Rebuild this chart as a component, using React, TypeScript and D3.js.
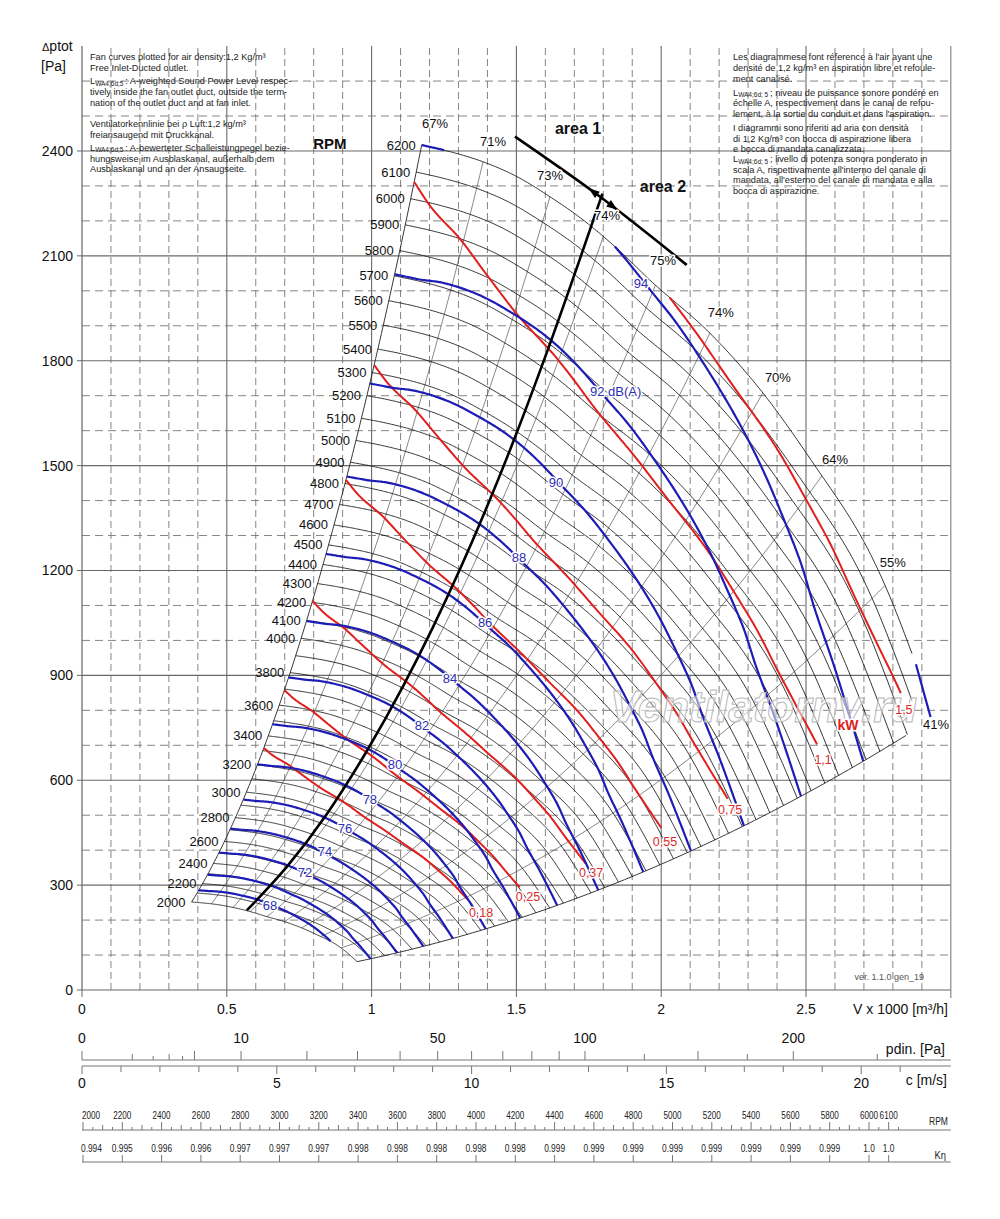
import React from "react";
import * as d3 from "d3";

const FONT = "'Liberation Sans', Arial, Helvetica, sans-serif";

// ---------- main axes ----------
const flowTicks = [0, 0.5, 1, 1.5, 2, 2.5];
const flowTickLabels = ["0", "0.5", "1", "1.5", "2", "2.5"];
const pressureTicks = [0, 300, 600, 900, 1200, 1500, 1800, 2100, 2400];

// ---------- fan curve at reference speed 6200 rpm (V x1000 m3/h, Pa) ----------
const REF_RPM = 6200;
const MIN_RPM = 2000;
const baseFlow = [1.173, 1.271, 1.385, 1.501, 1.616, 1.73, 1.846, 1.971, 2.168, 2.351, 2.524, 2.697, 2.78, 2.859, 2.945];
const basePressure = [2417, 2398, 2369, 2327, 2269, 2203, 2122, 2023, 1879, 1708, 1508, 1287, 1144, 978, 780];

const rpmCurves = [
  2000, 2100, 2200, 2300, 2400, 2500, 2600, 2700, 2800, 2900, 3000, 3100, 3200, 3300, 3400, 3500,
  3600, 3700, 3800, 3900, 4000, 4100, 4200, 4300, 4400, 4500, 4600, 4700, 4800, 4900, 5000, 5100,
  5200, 5300, 5400, 5500, 5600, 5700, 5800, 5900, 6000, 6100, 6200,
];
const rpmLabelled = [
  2000, 2200, 2400, 2600, 2800, 3000, 3200, 3400, 3600, 3800, 4000, 4100, 4200, 4300, 4400, 4500,
  4600, 4700, 4800, 4900, 5000, 5100, 5200, 5300, 5400, 5500, 5600, 5700, 5800, 5900, 6000, 6100, 6200,
];

// ---------- efficiency lines ----------
const effNames = ["67%", "71%", "73%", "74%", "75%", "74%", "70%", "64%", "55%", "41%"];
const effFlowAtRef = [1.173, 1.385, 1.616, 1.8, 1.98, 2.168, 2.351, 2.555, 2.773, 2.945];
const effLabelFlow = [1.219, 1.419, 1.616, 1.813, 2.006, 2.206, 2.403, 2.6, 2.8, 2.949];
const effLabelPressure = [2480, 2426, 2331, 2217, 2088, 1939, 1751, 1519, 1224, 761];

// ---------- sound power lines (dB(A)) ----------
const soundShapeFlow = [1.173, 1.25, 1.35, 1.55, 1.75, 1.84, 1.95, 2.05, 2.16, 2.36, 2.46, 2.54, 2.63, 2.72, 2.83, 2.945];
const soundShapeRatio = [1.0, 1.0, 1.002, 1.003, 1.002, 1.0, 0.996, 0.991, 0.983, 0.969, 0.961, 0.953, 0.943, 0.931, 0.923, 0.916];
const blueNames = ["68", "70", "72", "74", "76", "78", "80", "82", "84", "86", "88", "90", "92 dB(A)", "94", "96"];
const blueStartRpm = [2130, 2290, 2500, 2709, 2943, 3204, 3477, 3771, 4097, 4454, 4833, 5253, 5706, 6200, 6740];
const blueLabelShown = [true, false, true, true, true, true, true, true, true, true, true, true, true, true, false];
const blueLabelFlow = [0.649, 0, 0.77, 0.839, 0.908, 0.994, 1.081, 1.174, 1.271, 1.392, 1.509, 1.637, 1.754, 1.93, 0];
const blueLabelPressure = [243, 0, 335, 395, 463, 544, 644, 758, 890, 1050, 1236, 1453, 1711, 2022, 0];

// ---------- power lines (kW) ----------
const powerShapeFlow = [1.173, 1.25, 1.372, 1.492, 1.638, 1.795, 1.994, 2.277, 2.463, 2.641, 2.754, 2.81, 2.9];
const powerShapeRatio = [1.0, 0.987, 0.973, 0.958, 0.944, 0.935, 0.923, 0.908, 0.904, 0.897, 0.893, 0.894, 0.899];
const redNames = ["0,18", "0,25", "0,37", "0,55", "0,75", "1,1", "1,5"];
const redStartRpm = [3318, 3694, 4207, 4817, 5332, 6063, 6732];
const redEndFlow = [2.79, 2.834, 2.86, 2.87, 2.886, 2.889, 2.897];
const redLabelFlow = [1.378, 1.54, 1.758, 2.013, 2.238, 2.559, 2.838];
const redLabelPressure = [220, 266, 335, 423, 515, 658, 801];

// ---------- area border lines ----------
const borderFlow = [0.569, 0.707, 0.845, 0.983, 1.108, 1.212, 1.488, 1.606, 1.72, 1.797];
const borderPressure = [228, 352, 503, 683, 868, 1038, 1566, 1826, 2093, 2278];
const areaFlow = [1.495, 1.789, 2.088];
const areaPressure = [2441, 2269, 2074];

// ---------- auxiliary scales ----------
const pdinTicks = [0, 1, 2, 3, 4, 5, 10, 20, 30, 40, 50, 60, 70, 80, 90, 100, 125, 150, 175, 200, 250];
const pdinMid = [1, 3, 125, 175, 250];
const pdinShort = [2, 4];
const pdinLabelled = [0, 10, 50, 100, 200];
const velocityTicks = [0, 1, 2, 3, 4, 5, 6, 7, 8, 9, 10, 11, 12, 13, 14, 15, 16, 17, 18, 19, 20, 21];
const velocityLabelled = [0, 5, 10, 15, 20];
const rpmScaleLabels = [2000, 2200, 2400, 2600, 2800, 3000, 3200, 3400, 3600, 3800, 4000, 4200, 4400, 4600, 4800, 5000, 5200, 5400, 5600, 5800, 6000, 6100];
const kEtaLabels = ["0.994", "0.995", "0.996", "0.996", "0.997", "0.997", "0.997", "0.998", "0.998", "0.998", "0.998", "0.998", "0.999", "0.999", "0.999", "0.999", "0.999", "0.999", "0.999", "0.999", "1.0", "1.0"];

const notesLeft = [
  "Fan curves plotted for air density:1,2 Kg/m³",
  "Free Inlet-Ducted outlet.",
  "#: A-weighted Sound Power Level respec-",
  "tively inside the fan outlet duct, outside the term-",
  "nation of the outlet duct and at fan inlet.",
  "Ventilatorkennlinie bei ρ Luft:1,2 kg/m³",
  "freiansaugend mit Druckkanal.",
  "#: A-bewerteter Schalleistungpegel bezie-",
  "hungsweise im Ausblaskanal, außerhalb dem",
  "Ausblaskanal und an der Ansaugseite.",
];
const notesLeftY = [60, 70.5, 84, 95, 105.5, 127, 137.5, 150.5, 162, 172];
const notesRight = [
  "Les diagrammese font réference à l'air ayant une",
  "densité de 1,2 kg/m³ en aspiration libre et refoule-",
  "ment canalisé.",
  "#; niveau de puissance sonore pondéré en",
  "échelle A, respectivement dans le canal de refou-",
  "lement, à la sortie du conduit et dans l'aspiration.",
  "I diagrammi sono riferiti ad aria con densità",
  "di 1,2 Kg/m³ con bocca di aspirazione libera",
  "e bocca di mandata canalizzata.",
  "#; livello di potenza sonora ponderato in",
  "scala A, rispettivamente all'interno del canale di",
  "mandata, all'esterno del canale di mandata e alla",
  "bocca di aspirazione.",
];
const notesRightY = [60, 71, 81.5, 95.5, 106, 116.5, 131, 141.5, 151.5, 162, 172.5, 183, 194];

// monotone cubic interpolation
function monotone(xs: number[], ys: number[]) {
  const n = xs.length;
  const d: number[] = [];
  for (let i = 0; i < n - 1; i++) d.push((ys[i + 1] - ys[i]) / (xs[i + 1] - xs[i]));
  const m: number[] = new Array(n).fill(0);
  m[0] = d[0];
  m[n - 1] = d[n - 2];
  for (let i = 1; i < n - 1; i++) m[i] = d[i - 1] * d[i] <= 0 ? 0 : (d[i - 1] + d[i]) / 2;
  for (let i = 0; i < n - 1; i++) {
    if (d[i] === 0) {
      m[i] = 0;
      m[i + 1] = 0;
      continue;
    }
    const a = m[i] / d[i];
    const b = m[i + 1] / d[i];
    const s = a * a + b * b;
    if (s > 9) {
      const t = 3 / Math.sqrt(s);
      m[i] = t * a * d[i];
      m[i + 1] = t * b * d[i];
    }
  }
  return (xv: number) => {
    let i = d3.bisectRight(xs, xv) - 1;
    i = Math.max(0, Math.min(n - 2, i));
    const hh = xs[i + 1] - xs[i];
    const t = (xv - xs[i]) / hh;
    const t2 = t * t;
    const t3 = t2 * t;
    return (2 * t3 - 3 * t2 + 1) * ys[i] + (t3 - 2 * t2 + t) * hh * m[i] + (-2 * t3 + 3 * t2) * ys[i + 1] + (t3 - t2) * hh * m[i + 1];
  };
}

type Pt = [number, number];

export default function App() {
  const x = d3.scaleLinear().domain([0, 3]).range([82, 950.8]);
  const y = d3.scaleLinear().domain([0, 2700]).range([990, 46.1]);
  const cScale = d3.scaleLinear().domain([0, 22.3]).range([82, 950.8]);
  const pScale = d3.scaleSqrt().domain([0, 0.6 * 22.3 * 22.3]).range([82, 950.8]);
  const rScale = d3.scaleLinear().domain([2000, 6000]).range([83, 869]);

  const P0 = monotone(baseFlow, basePressure);
  const gS = monotone(soundShapeFlow, soundShapeRatio);
  const hP = monotone(powerShapeFlow, powerShapeRatio);
  const q0Min = baseFlow[0];
  const q0Max = baseFlow[baseFlow.length - 1];
  const sMin = MIN_RPM / REF_RPM;
  const Q_CLIP = 2.866;
  const line = d3.line<Pt>().x((d) => x(d[0])).y((d) => y(d[1]));

  const trace = (sFn: (q: number) => number, a: number, b: number, qClip: number): Pt[][] => {
    const pt = (q: number): Pt => {
      const s = sFn(q);
      return [q * s, P0(q) * s * s];
    };
    const ok = (q: number) => {
      const s = sFn(q);
      return s >= sMin - 1e-9 && s <= 1 + 1e-9 && q * s <= qClip;
    };
    const segs: Pt[][] = [];
    let cur: Pt[] | null = null;
    const N = 320;
    let prevQ = a;
    let prevV = ok(a);
    if (prevV) cur = [pt(a)];
    for (let i = 1; i <= N; i++) {
      const q = a + ((b - a) * i) / N;
      const v = ok(q);
      if (v !== prevV) {
        let lo = prevQ;
        let hi = q;
        for (let k = 0; k < 40; k++) {
          const mid = (lo + hi) / 2;
          if (ok(mid) === prevV) lo = mid;
          else hi = mid;
        }
        if (prevV) {
          cur!.push(pt(lo));
          if (cur!.length > 1) segs.push(cur!);
          cur = null;
        } else {
          cur = [pt(hi)];
        }
      }
      if (v && cur) cur.push(pt(q));
      prevQ = q;
      prevV = v;
    }
    if (cur && cur.length > 1) segs.push(cur);
    return segs;
  };

  const systemLine = (q0: number, qClip: number): Pt[] => {
    const pts: Pt[] = [];
    const N = 80;
    for (let i = 0; i <= N; i++) {
      const s = sMin + ((1 - sMin) * i) / N;
      if (q0 * s > qClip) break;
      pts.push([q0 * s, P0(q0) * s * s]);
    }
    return pts;
  };

  // grid
  const vGrid = d3.range(1, 30).map((i) => i / 10);
  const hGrid = d3.range(1, 27).map((j) => j * 100);

  const rpmMinor = d3.range(2000, 6151, 50);

  const blue = "#1d1db6";
  const blueText = "#2e2eb4";
  const red = "#e0201e";
  const redText = "#dc2a2a";

  const halo = { paintOrder: "stroke" as const, stroke: "white", strokeWidth: 3, strokeLinejoin: "round" as const };

  // arrow heads on area line
  const ax0 = x(areaFlow[0]);
  const ay0 = y(areaPressure[0]);
  const ax1 = x(areaFlow[2]);
  const ay1 = y(areaPressure[2]);
  const len = Math.hypot(ax1 - ax0, ay1 - ay0);
  const ux = (ax1 - ax0) / len;
  const uy = (ay1 - ay0) / len;
  const arrow = (cx: number, cy: number, dir: number) => {
    const tx = cx + dir * ux * 6;
    const ty = cy + dir * uy * 6;
    const bx = cx - dir * ux * 5;
    const by = cy - dir * uy * 5;
    return `M${tx},${ty}L${bx - uy * 4},${by + ux * 4}L${bx + uy * 4},${by - ux * 4}Z`;
  };
  const areaInterp = monotone(areaFlow, areaPressure);

  const renderNote = (s: string, xx: number, yy: number, key: string, sub: string) => {
    if (s.startsWith("#")) {
      return (
        <text key={key} x={xx} y={yy}>
          L<tspan fontSize={6.5} dy={1.5}>{sub}</tspan>
          <tspan dy={-1.5}>{s.slice(1)}</tspan>
        </text>
      );
    }
    return (
      <text key={key} x={xx} y={yy}>
        {s}
      </text>
    );
  };

  return (
    <svg
      width={1000}
      height={1219}
      viewBox="0 0 1000 1219"
      style={{ position: "absolute", left: 0, top: 0, background: "white" }}
      fontFamily={FONT}
    >
      <rect x={0} y={0} width={1000} height={1219} fill="white" />

      {/* grid */}
      <g>
        {vGrid.map((v, i) => (
          <line
            key={"vg" + i}
            x1={x(v)}
            x2={x(v)}
            y1={y(0)}
            y2={y(2700)}
            stroke={(i + 1) % 5 === 0 ? "#6a6a6a" : "#777"}
            strokeWidth={(i + 1) % 5 === 0 ? 1.1 : 0.9}
            strokeDasharray={(i + 1) % 5 === 0 ? undefined : "7,4"}
          />
        ))}
        {hGrid.map((v, j) => (
          <line
            key={"hg" + j}
            x1={x(0)}
            x2={x(3)}
            y1={y(v)}
            y2={y(v)}
            stroke={(j + 1) % 3 === 0 ? "#6a6a6a" : "#777"}
            strokeWidth={(j + 1) % 3 === 0 ? 1.1 : 0.9}
            strokeDasharray={(j + 1) % 3 === 0 ? undefined : "8,5"}
          />
        ))}
        <line x1={x(0)} x2={x(0)} y1={y(2700)} y2={y(0)} stroke="#666" strokeWidth={1.2} />
        <line x1={x(3)} x2={x(3)} y1={y(2700)} y2={y(0) + 8} stroke="#888" strokeWidth={1.2} />
        <line x1={x(0)} x2={x(3)} y1={y(0)} y2={y(0)} stroke="#666" strokeWidth={1.2} />
        {pressureTicks.map((v) => (
          <line key={"yt" + v} x1={x(0) - 5} x2={x(0)} y1={y(v)} y2={y(v)} stroke="#666" />
        ))}
        {flowTicks.map((v) => (
          <line key={"xt" + v} x1={x(v)} x2={x(v)} y1={y(0)} y2={y(0) + 7} stroke="#666" />
        ))}
      </g>

      {/* axis labels */}
      <g fontSize={14} fill="#111">
        {pressureTicks.map((v) => (
          <text key={"yl" + v} x={73} y={y(v)} dy="0.35em" textAnchor="end">
            {v}
          </text>
        ))}
        {flowTicks.map((v, i) => (
          <text key={"xl" + v} x={x(v)} y={1009} dy="0.35em" textAnchor="middle">
            {flowTickLabels[i]}
          </text>
        ))}
        <text x={42} y={51}>
          <tspan fontSize={11}>Δ</tspan>ptot
        </text>
        <text x={41} y={71}>[Pa]</text>
        <text x={948} y={1009} dy="0.35em" textAnchor="end">
          V x 1000 [m³/h]
        </text>
      </g>

      {/* notes */}
      <g fontSize={9.2} fill="#222">
        {notesLeft.map((s, i) => renderNote(s, 90, notesLeftY[i], "nl" + i, "WA4;6d;5 "))}
        {notesRight.map((s, i) => renderNote(s, 733, notesRightY[i], "nr" + i, "WA4;6d; 5 "))}
      </g>

      {/* efficiency lines */}
      <g fill="none" stroke="#555" strokeWidth={0.7}>
        {effFlowAtRef.map((q0, i) => (
          <path
            key={"ef" + i}
            d={line(systemLine(q0, Q_CLIP)) || ""}
            stroke={i === 0 || i === effFlowAtRef.length - 1 ? "#222" : "#555"}
            strokeWidth={i === 0 || i === effFlowAtRef.length - 1 ? 0.9 : 0.7}
          />
        ))}
      </g>

      {/* rpm curves */}
      <g fill="none" stroke="#111" strokeWidth={0.85}>
        {rpmCurves.map((n) =>
          trace(() => n / REF_RPM, q0Min, q0Max, Q_CLIP).map((seg, k) => <path key={"r" + n + "_" + k} d={line(seg) || ""} />)
        )}
      </g>

      {/* power lines */}
      <g fill="none" stroke={red} strokeWidth={2}>
        {redStartRpm.map((n, i) =>
          trace((q) => (n / REF_RPM) * hP(q), q0Min, redEndFlow[i], 3).map((seg, k) => (
            <path key={"pw" + i + "_" + k} d={line(seg) || ""} />
          ))
        )}
      </g>

      {/* sound lines */}
      <g fill="none" stroke={blue} strokeWidth={2.2}>
        {blueStartRpm.map((n, i) =>
          trace((q) => (n / REF_RPM) * gS(q), q0Min, q0Max, 2.93).map((seg, k) => (
            <path key={"bl" + i + "_" + k} d={line(seg) || ""} />
          ))
        )}
      </g>

      {/* area border */}
      <path
        d={d3.line<number>().x((_, i) => x(borderFlow[i])).y((_, i) => y(borderPressure[i])).curve(d3.curveMonotoneX)(borderFlow) || ""}
        fill="none"
        stroke="#000"
        strokeWidth={2.6}
      />
      <path
        d={d3.line<number>().x((_, i) => x(areaFlow[i])).y((_, i) => y(areaPressure[i])).curve(d3.curveMonotoneX)(areaFlow) || ""}
        fill="none"
        stroke="#000"
        strokeWidth={2.6}
      />
      <path d={arrow(x(1.766), y(areaInterp(1.766)), -1)} fill="#000" />
      <path d={arrow(x(1.832), y(areaInterp(1.832)), 1)} fill="#000" />

      {/* rpm labels */}
      <g fontSize={13} fill="#111">
        {rpmLabelled.map((n) => {
          const s = n / REF_RPM;
          return (
            <text key={"rl" + n} x={x(q0Min * s) - 6} y={y(P0(q0Min) * s * s)} dy="0.35em" textAnchor="end">
              {n}
            </text>
          );
        })}
      </g>

      {/* efficiency labels */}
      <g fontSize={13} fill="#111">
        {effNames.map((s, i) => (
          <text key={"el" + i} x={x(effLabelFlow[i])} y={y(effLabelPressure[i])} dy="0.35em" textAnchor="middle" style={halo}>
            {s}
          </text>
        ))}
      </g>

      {/* watermark */}
      <text
        x={610}
        y={722}
        fontSize={44}
        fontStyle="italic"
        fontWeight="bold"
        fill="white"
        fillOpacity={0.55}
        stroke="#b8b8b8"
        strokeWidth={1}
      >
        Ventilatorny.ru
      </text>

      {/* sound labels */}
      <g fontSize={13} fill={blueText}>
        {blueNames.map((s, i) =>
          blueLabelShown[i] ? (
            <text
              key={"bt" + i}
              x={x(blueLabelFlow[i])}
              y={y(blueLabelPressure[i])}
              dy="0.35em"
              textAnchor={s.length > 3 ? "start" : "middle"}
              style={halo}
            >
              {s}
            </text>
          ) : null
        )}
      </g>

      {/* power labels */}
      <g fontSize={12.5} fill={redText}>
        {redNames.map((s, i) => (
          <text key={"rt" + i} x={x(redLabelFlow[i])} y={y(redLabelPressure[i])} dy="0.35em" textAnchor="middle" style={halo}>
            {s}
          </text>
        ))}
        <text x={x(2.645)} y={y(758)} dy="0.35em" textAnchor="middle" fontWeight="bold" fontSize={14} fill={red} style={halo}>
          kW
        </text>
      </g>

      {/* titles */}
      <g fontWeight="bold" fill="#111">
        <text x={x(0.856)} y={y(2420)} dy="0.35em" textAnchor="middle" fontSize={15}>
          RPM
        </text>
        <text x={x(1.713)} y={y(2466)} dy="0.35em" textAnchor="middle" fontSize={16}>
          area 1
        </text>
        <text x={x(2.006)} y={y(2300)} dy="0.35em" textAnchor="middle" fontSize={16}>
          area 2
        </text>
      </g>

      <text x={924} y={980} fontSize={9} fill="#555" textAnchor="end">
        ver. 1.1.0 gen_19
      </text>

      {/* dynamic pressure scale */}
      <g stroke="#777" strokeWidth={1}>
        <line x1={82} x2={950.8} y1={1060} y2={1060} />
        {pdinTicks.map((p) => {
          const l = pdinShort.includes(p) ? 4 : pdinMid.includes(p) ? 6 : 9;
          return <line key={"pd" + p} x1={pScale(p)} x2={pScale(p)} y1={1060} y2={1060 - l} />;
        })}
        <line x1={82} x2={950.8} y1={1066} y2={1066} />
        {velocityTicks.map((c) => (
          <line key={"ct" + c} x1={cScale(c)} x2={cScale(c)} y1={1066} y2={1066 + (c % 5 === 0 ? 8 : 6)} />
        ))}
        <line x1={82} x2={950.8} y1={1130} y2={1130} />
        {rpmMinor.map((r) => (
          <line key={"rm" + r} x1={rScale(r)} x2={rScale(r)} y1={1130} y2={1130 - (r % 200 === 0 || r === 6100 ? 8 : r % 100 === 0 ? 5 : 3)} />
        ))}
        <line x1={82} x2={950.8} y1={1162} y2={1162} />
        {rpmScaleLabels.map((r) => (
          <line key={"kt" + r} x1={rScale(r)} x2={rScale(r)} y1={1162} y2={1155} />
        ))}
      </g>
      <g fontSize={14} fill="#111">
        {pdinLabelled.map((p) => (
          <text key={"pl" + p} x={pScale(p)} y={1038} dy="0.35em" textAnchor="middle">
            {p}
          </text>
        ))}
        <text x={945} y={1049} dy="0.35em" textAnchor="end">
          pdin. [Pa]
        </text>
        {velocityLabelled.map((c) => (
          <text key={"cl" + c} x={cScale(c)} y={1083} dy="0.35em" textAnchor="middle">
            {c}
          </text>
        ))}
        <text x={947} y={1080} dy="0.35em" textAnchor="end">
          c [m/s]
        </text>
      </g>
      <g fontSize={11} fill="#222">
        {rpmScaleLabels.map((r, i) => (
          <text
            key={"rs" + r}
            transform={`translate(${i === 0 ? 82 : rScale(r)},1115) scale(0.74,1)`}
            dy="0.35em"
            textAnchor={i === 0 ? "start" : "middle"}
          >
            {r}
          </text>
        ))}
        <text transform="translate(948,1121) scale(0.78,1)" dy="0.35em" textAnchor="end">
          RPM
        </text>
        {kEtaLabels.map((k, i) => (
          <text
            key={"ke" + i}
            transform={`translate(${i === 0 ? 81 : rScale(rpmScaleLabels[i])},1148) scale(0.76,1)`}
            dy="0.35em"
            textAnchor={i === 0 ? "start" : "middle"}
          >
            {k}
          </text>
        ))}
        <text transform="translate(946,1155) scale(0.85,1)" dy="0.35em" textAnchor="end">
          Kη
        </text>
      </g>
    </svg>
  );
}
